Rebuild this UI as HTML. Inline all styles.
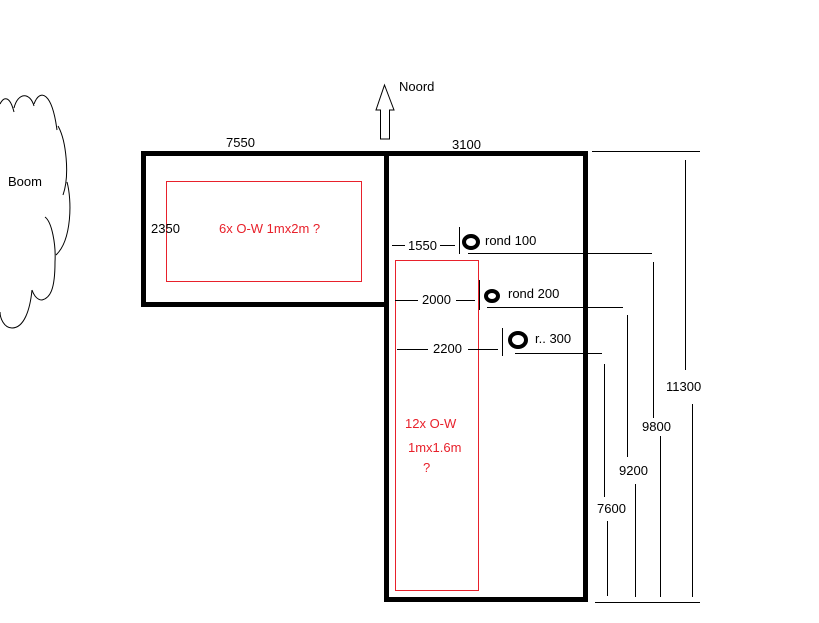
<!DOCTYPE html>
<html><head><meta charset="utf-8"><style>
html,body{margin:0;padding:0;background:#fff;}
svg{display:block;}
text{font-family:"Liberation Sans",sans-serif;font-size:13px;}
</style></head><body>
<svg width="819" height="623" viewBox="0 0 819 623" xmlns="http://www.w3.org/2000/svg">
<rect width="819" height="623" fill="#fff"/>
<g fill="none" stroke="#000" stroke-width="1">
<path d="M0,104 C4,96 10,96 14,112"/>
<path d="M14,108 C18,92 30,92 34,106"/>
<path d="M34,104 C40,88 52,92 57,130"/>
<path d="M58,126 C66,140 70,175 63,195"/>
<path d="M67,182 C72,200 72,240 56,255"/>
<path d="M45,217 C52,222 56,245 55,262 C55,290 50,298 42,300 C36,300 33,293 32,290"/>
<path d="M32,290 C30,310 24,328 12,328 C4,328 0,318 0,312"/>
</g>
<text x="8" y="186" fill="#000">Boom</text>
<path d="M384.5,85 L394,110 L389.5,110 L389.5,139 L380.5,139 L380.5,110 L376,110 Z" fill="#fff" stroke="#000" stroke-width="1"/>
<text x="399" y="91" fill="#000">Noord</text>
<rect x="143.5" y="153.5" width="243" height="151" fill="none" stroke="#000" stroke-width="5"/>
<rect x="386.5" y="153.5" width="199" height="446" fill="none" stroke="#000" stroke-width="5"/>
<rect x="166.5" y="181.5" width="195" height="100" fill="none" stroke="#e8212b" stroke-width="1"/>
<rect x="395.5" y="260.5" width="83" height="330" fill="none" stroke="#e8212b" stroke-width="1"/>
<text x="226" y="147" fill="#000">7550</text>
<text x="452" y="149" fill="#000">3100</text>
<text x="151" y="233" fill="#000">2350</text>
<text x="219" y="233" fill="#e8212b">6x O-W 1mx2m ?</text>
<text x="405" y="428" fill="#e8212b">12x O-W</text>
<text x="408" y="452" fill="#e8212b">1mx1.6m</text>
<text x="423" y="472" fill="#e8212b">?</text>
<g stroke="#000" stroke-width="1" fill="none">
<line x1="392" y1="245.5" x2="405" y2="245.5"/>
<line x1="440" y1="245.5" x2="455" y2="245.5"/>
<line x1="459.5" y1="227" x2="459.5" y2="254"/>
<line x1="395" y1="300.5" x2="418" y2="300.5"/>
<line x1="456" y1="300.5" x2="475" y2="300.5"/>
<line x1="479.5" y1="280" x2="479.5" y2="310"/>
<line x1="397" y1="349.5" x2="428" y2="349.5"/>
<line x1="468" y1="349.5" x2="498" y2="349.5"/>
<line x1="502.5" y1="328" x2="502.5" y2="356"/>
<line x1="592" y1="151.5" x2="700" y2="151.5"/>
<line x1="595" y1="602.5" x2="700" y2="602.5"/>
<line x1="468" y1="253.5" x2="652" y2="253.5"/>
<line x1="487" y1="307.5" x2="623" y2="307.5"/>
<line x1="515" y1="353.5" x2="602" y2="353.5"/>
<line x1="685.5" y1="160" x2="685.5" y2="370"/>
<line x1="692.5" y1="404" x2="692.5" y2="597"/>
<line x1="653.5" y1="262" x2="653.5" y2="418"/>
<line x1="660.5" y1="436" x2="660.5" y2="597"/>
<line x1="627.5" y1="315" x2="627.5" y2="457"/>
<line x1="635.5" y1="484" x2="635.5" y2="597"/>
<line x1="604.5" y1="364" x2="604.5" y2="497"/>
<line x1="607.5" y1="521" x2="607.5" y2="596"/>
</g>
<g fill="none" stroke="#000" stroke-width="4">
<ellipse cx="471" cy="242" rx="7" ry="6"/>
<ellipse cx="492" cy="296" rx="6" ry="5"/>
<ellipse cx="518" cy="340" rx="8" ry="7"/>
</g>
<text x="408" y="250" fill="#000">1550</text>
<text x="485" y="245" fill="#000">rond 100</text>
<text x="422" y="304" fill="#000">2000</text>
<text x="508" y="298" fill="#000">rond 200</text>
<text x="433" y="353" fill="#000">2200</text>
<text x="535" y="343" fill="#000">r.. 300</text>
<text x="666" y="391" fill="#000">11300</text>
<text x="642" y="431" fill="#000">9800</text>
<text x="619" y="475" fill="#000">9200</text>
<text x="597" y="513" fill="#000">7600</text>
</svg>
</body></html>
